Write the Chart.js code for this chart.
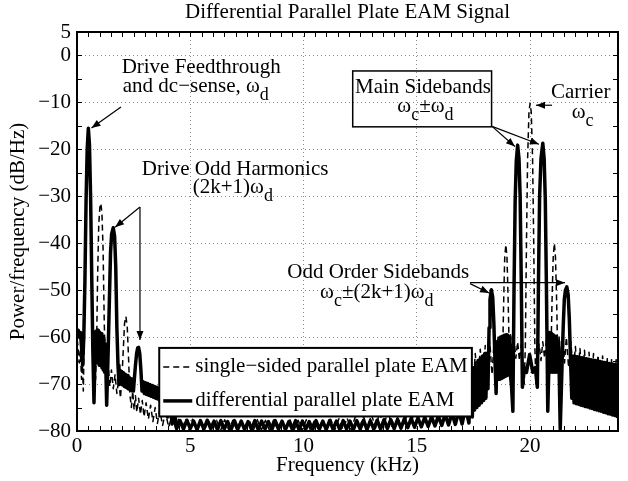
<!DOCTYPE html>
<html>
<head>
<meta charset="utf-8">
<title>Differential Parallel Plate EAM Signal</title>
<script src="https://cdn.jsdelivr.net/npm/chart.js@4.4.1/dist/chart.umd.min.js"></script>
<style>
  html, body { margin: 0; padding: 0; background: #fff; }
</style>
</head>
<body>
<canvas id="grafico" width="628" height="481"></canvas>
<script>
// tick labels
const xTickLabels = [0, 5, 10, 15, 20];
const yTickLabels = [5, 0, -10, -20, -30, -40, -50, -60, -70, -80];
const seriesNames = ['single\u2212sided parallel plate EAM', 'differential parallel plate EAM'];

// single-sided parallel plate (dashed)
const singleFreq = [
  0.00, 0.05, 0.10, 0.15, 0.20, 0.24, 0.28, 0.33, 0.38, 0.44,
  0.50, 0.56, 0.62, 0.67, 0.72, 0.77, 0.82, 0.87, 0.91, 0.96,
  1.01, 1.05, 1.10, 1.15, 1.20, 1.25, 1.32, 1.38, 1.45, 1.52,
  1.60, 1.68, 1.76, 1.84, 1.92, 2.00, 2.05, 2.10, 2.16, 2.22,
  2.28, 2.33, 2.40, 2.46, 2.52, 2.58, 2.64, 2.72, 2.80, 2.88,
  2.96, 3.05, 3.15, 3.25, 3.35, 3.45, 3.55, 3.65, 3.78, 3.90,
  4.05, 4.20, 4.35, 4.50, 4.65, 4.80, 4.95, 5.10, 5.28, 5.45,
  5.62, 5.80, 5.98, 6.16, 6.34, 6.52, 6.70, 6.88, 7.06, 7.24,
  7.42, 7.60, 7.78, 7.96, 8.14, 8.32, 8.50, 8.68, 8.86, 9.04,
  9.22, 9.40, 9.58, 9.76, 9.94, 10.12, 10.30, 10.48, 10.66, 10.84,
  11.02, 11.20, 11.38, 11.56, 11.74, 11.92, 12.10, 12.28, 12.46, 12.64,
  12.82, 13.00, 13.18, 13.36, 13.54, 13.72, 13.90, 14.05, 14.20, 14.35,
  14.50, 14.65, 14.80, 14.95, 15.10, 15.25, 15.40, 15.55, 15.70, 15.85,
  16.00, 16.15, 16.30, 16.45, 16.60, 16.75, 16.90, 17.05, 17.20, 17.35,
  17.47, 17.58, 17.69, 17.80, 17.91, 18.02, 18.12, 18.22, 18.32, 18.42,
  18.52, 18.60, 18.68, 18.74, 18.79, 18.84, 18.88, 18.93, 18.98, 19.03,
  19.08, 19.14, 19.21, 19.29, 19.37, 19.45, 19.53, 19.61, 19.68, 19.74,
  19.79, 19.84, 19.89, 19.95, 20.00, 20.05, 20.11, 20.16, 20.21, 20.26,
  20.32, 20.40, 20.48, 20.56, 20.64, 20.72, 20.80, 20.86, 20.92, 20.97,
  21.02, 21.07, 21.12, 21.17, 21.22, 21.28, 21.36, 21.44, 21.52, 21.60,
  21.70, 21.80, 21.90, 22.00, 22.10, 22.20, 22.30, 22.40, 22.50, 22.60,
  22.70, 22.80, 22.90, 23.00, 23.10, 23.20, 23.30, 23.40, 23.50, 23.60,
  23.70, 23.80, 23.88
];
const singlePower = [
  -60.5, -62, -65.5, -63, -69, -66, -71.5, -56, -38, -24,
  -19, -24, -38, -56, -68, -64, -69, -60, -47, -36,
  -32.3, -31.5, -33.5, -41, -56, -67, -71.8, -66, -70.5, -67,
  -71, -68, -72, -69, -73, -67, -62, -57, -55.6, -58,
  -65, -72, -75, -71.5, -75.5, -72.5, -76, -73, -76.5, -73.5,
  -77, -74, -77.5, -74.5, -78, -75, -78.4, -75.5, -78.8, -76,
  -79.2, -76.5, -79.4, -77.2, -79.6, -77.4, -79.8, -77.5, -79.8, -77.6,
  -79.9, -77.6, -79.8, -77.7, -79.9, -77.6, -79.8, -77.7, -79.9, -77.6,
  -79.8, -77.7, -79.9, -77.6, -79.8, -77.7, -79.9, -77.6, -79.8, -77.7,
  -79.9, -77.6, -79.8, -77.7, -79.9, -77.6, -79.8, -77.7, -79.9, -77.6,
  -79.8, -77.5, -79.8, -77.4, -79.7, -77.2, -79.7, -77, -79.6, -76.8,
  -79.5, -76.5, -79.4, -76, -79.2, -75.5, -79, -74.5, -78.6, -73.5,
  -78.2, -72.4, -77.8, -71.5, -77.2, -70.6, -76.6, -69.8, -76, -69,
  -75.3, -68.2, -74.6, -67.3, -73.8, -66.4, -73, -65.4, -72.2, -64.4,
  -71.4, -63.5, -70.6, -62.6, -69.8, -61.8, -69, -61, -68, -60.2,
  -66.5, -59.5, -65, -60, -63, -51, -43, -40.3, -43, -52,
  -63, -59.5, -64.5, -60.5, -64.5, -61, -65, -61.5, -66, -70,
  -62, -40, -22, -12, -10.2, -12, -22, -40, -62, -70,
  -66, -61.5, -65, -61, -64.5, -60.5, -64, -60, -63.5, -52,
  -43, -40, -43, -52, -64, -60, -66, -59, -65.5, -60,
  -66.5, -61, -67.5, -62, -68.5, -62.4, -69, -62.8, -69.5, -63.2,
  -70, -63.5, -70.4, -63.8, -70.8, -64, -71.2, -64.3, -71.6, -64.6,
  -72, -64.8, -72.2
];

// differential parallel plate (solid)
const diffFreq = [
  0.00, 0.05, 0.10, 0.15, 0.20, 0.25, 0.30, 0.35, 0.40, 0.45, 0.50, 0.55, 0.60, 0.65, 0.70, 0.75,
  0.80, 0.83, 0.86, 0.89, 0.92, 0.95, 0.98, 1.01, 1.04, 1.07, 1.10, 1.13, 1.16, 1.19, 1.22, 1.25, 1.28,
  1.31, 1.37, 1.43, 1.48, 1.53, 1.60, 1.66, 1.71, 1.76,
  1.81, 1.85, 1.89, 1.93, 1.97, 2.01, 2.05, 2.09, 2.13, 2.17, 2.21, 2.25, 2.29, 2.33, 2.37, 2.41, 2.45, 2.49, 2.53,
  2.58, 2.63, 2.68, 2.72, 2.77, 2.82,
  2.87, 2.92, 2.97, 3.02, 3.07, 3.12, 3.17, 3.22, 3.27, 3.32, 3.37, 3.42, 3.47, 3.52, 3.57, 3.62, 3.67, 3.72,
  3.80, 3.90, 4.00, 4.10, 4.20, 4.30,
  4.40, 4.55, 4.70, 4.85, 5.00, 5.15, 5.30, 5.45, 5.60, 5.75,
  5.90, 6.05, 6.20, 6.35, 6.50, 6.65, 6.80, 6.95, 7.10, 7.25,
  7.40, 7.55, 7.70, 7.85, 8.00, 8.15, 8.30, 8.45, 8.60, 8.75,
  8.90, 9.05, 9.20, 9.35, 9.50, 9.65, 9.80, 9.95, 10.10, 10.25,
  10.40, 10.55, 10.70, 10.85, 11.00, 11.15, 11.30, 11.45, 11.60, 11.75,
  11.90, 12.05, 12.20, 12.35, 12.50, 12.65, 12.80, 12.95, 13.10, 13.25,
  13.40, 13.55, 13.70, 13.85,
  14.00, 14.15, 14.30, 14.45, 14.60, 14.75, 14.90, 15.05, 15.20, 15.35,
  15.50, 15.65, 15.80, 15.95, 16.10, 16.25, 16.40, 16.55, 16.70, 16.85,
  17.00, 17.15, 17.30, 17.40,
  17.45, 17.50, 17.55, 17.60, 17.65, 17.70, 17.75, 17.80, 17.85, 17.90, 17.95, 18.00, 18.05, 18.10, 18.14,
  18.19, 18.23, 18.29, 18.35, 18.40, 18.45,
  18.50, 18.54, 18.58, 18.62, 18.66, 18.70, 18.74, 18.78, 18.82, 18.86, 18.90, 18.94, 18.98, 19.02, 19.06, 19.10, 19.14, 19.18,
  19.24, 19.29, 19.34, 19.39, 19.45, 19.51, 19.56, 19.61, 19.66, 19.74, 19.84, 19.98,
  20.12, 20.23, 20.32, 20.37, 20.42, 20.48, 20.56, 20.62, 20.67, 20.72, 20.78,
  20.82, 20.86, 20.90, 20.94, 20.98, 21.02, 21.06, 21.10, 21.14, 21.18, 21.22, 21.26,
  21.33, 21.41, 21.46, 21.51, 21.56, 21.62, 21.68, 21.73, 21.78,
  21.84, 21.89, 21.94, 21.99, 22.04, 22.09, 22.14, 22.19, 22.24, 22.29, 22.34, 22.39, 22.44, 22.49,
  22.54, 22.59, 22.64, 22.69, 22.74, 22.79, 22.84, 22.89, 22.94, 22.99, 23.04, 23.09, 23.14, 23.19,
  23.24, 23.29, 23.34, 23.39, 23.44, 23.49, 23.54, 23.59, 23.64, 23.69, 23.74, 23.79, 23.84, 23.88
];
const diffPower = [
  -59.5, -58.5, -60, -59, -62, -66, -60, -48, -31, -20, -15.5, -19, -30, -47, -63, -74,
  -63, -58.8, -65, -58.5, -65.5, -58.6, -66, -59, -66, -59.3, -66.5, -59.8, -67, -60.5, -67.5, -61.5, -68,
  -74.5, -64, -52, -42, -38, -36.7, -38.5, -45, -58,
  -66, -69.8, -67, -70, -67.3, -70.2, -67.6, -70.5, -67.9, -70.7, -68.2, -71, -68.5, -71.2, -68.8, -71.4, -69, -71.5, -69,
  -66, -63.5, -62.3, -62.2, -63.5, -67,
  -71.5, -69.5, -72, -69.7, -72.2, -69.9, -72.4, -70.1, -72.6, -70.3, -72.8, -70.5, -73, -70.7, -73.2, -71, -73.5, -71.3,
  -75, -72.5, -77, -74, -78.5, -76,
  -79.5, -77.8, -79.6, -77.7, -79.5, -77.9, -79.7, -77.8, -79.6, -77.7,
  -79.5, -77.9, -79.7, -77.8, -79.6, -78, -79.7, -77.8, -79.6, -77.9,
  -79.7, -78, -79.6, -77.8, -79.7, -77.9, -79.6, -78, -79.7, -77.8,
  -79.6, -77.9, -79.7, -78, -79.6, -77.8, -79.7, -77.9, -79.6, -78,
  -79.7, -77.8, -79.6, -77.9, -79.7, -77.8, -79.6, -77.9, -79.7, -77.8,
  -79.6, -77.9, -79.7, -77.8, -79.6, -77.7, -79.7, -77.8, -79.6, -77.7,
  -79.6, -77.6, -79.5, -77.6,
  -79.5, -77.5, -79.4, -77.4, -79.3, -77.3, -79.2, -77.2, -79.1, -77.1,
  -79, -77, -78.9, -76.8, -78.8, -76.5, -78.7, -76.2, -78.6, -75.8,
  -78.5, -75, -78.3, -68,
  -77, -66.5, -75.5, -65.5, -75, -65, -74.5, -64.5, -74, -64, -73.5, -63.5, -73, -63.5, -71,
  -58, -52, -49.9, -51.5, -57, -65,
  -72, -61, -69, -60.5, -69, -60, -68.8, -59.8, -68.6, -59.6, -68.4, -59.5, -68.2, -59.6, -68, -60, -68.5, -70.5,
  -75.8, -50, -31, -22.5, -19.1, -22, -30, -48, -70.7, -66.5, -67.5, -63.7,
  -67.5, -66.5, -70.7, -48, -30, -22, -18.7, -22, -30.5, -49, -75.8,
  -68, -59, -67.5, -59.2, -67.5, -59.5, -67.5, -59.8, -67.5, -60.2, -67.5, -61,
  -79.6, -66, -58, -52, -50, -49.3, -51, -56, -64,
  -73, -64, -74, -64.1, -74.2, -64.2, -74.3, -64.3, -74.5, -64.4, -74.6, -64.5, -74.8, -64.6,
  -74.9, -64.7, -75.1, -64.8, -75.2, -64.9, -75.4, -65, -75.5, -65.1, -75.7, -65.2, -75.8, -65.3,
  -76, -65.4, -76.1, -65.5, -76.3, -65.6, -76.4, -65.7, -76.6, -65.8, -76.7, -65.9, -76.9, -66
];

const FONT = '"Liberation Serif", "Times New Roman", serif';
const NOTE_FONT = '21px ' + FONT;
const SUB_FONT = '18px ' + FONT;

// text notes: left edge (kHz) and baseline (dB)
const noteTexts = [
  { text: 'Drive Feedthrough', f: 1.97, db: -3.7 },
  { text: 'and dc\u2212sense, \u03c9_d', f: 2.02, db: -7.7 },
  { text: 'Drive Odd Harmonics', f: 2.86, db: -25.5 },
  { text: '(2k+1)\u03c9_d', f: 5.11, db: -29.4 },
  { text: 'Main Sidebands', f: 12.27, db: -7.9 },
  { text: '\u03c9_c\u00b1\u03c9_d', f: 14.14, db: -12.0 },
  { text: 'Carrier', f: 20.92, db: -9.0 },
  { text: '\u03c9_c', f: 21.84, db: -13.4 },
  { text: 'Odd Order Sidebands', f: 9.28, db: -47.5 },
  { text: '\u03c9_c\u00b1(2k+1)\u03c9_d', f: 10.73, db: -51.6 }
];
// arrows: [f1, db1, f2, db2], head at the second point
const noteArrows = [
  [1.94, -11.0, 0.64, -15.45],
  [2.78, -32.3, 1.68, -36.6],
  [2.78, -32.3, 2.78, -60.6],
  [18.32, -15.1, 19.33, -19.4],
  [18.32, -15.1, 20.39, -18.9],
  [20.97, -10.6, 20.26, -10.6],
  [17.35, -48.6, 18.19, -50.6],
  [17.35, -48.4, 21.54, -48.4]
];
const mainBox = [12.17, -3.3, 18.30, -15.2];
const legendBox = [3.63, -62.3, 17.43, -76.9];

function isStep(v, s) { return Math.abs(v - Math.round(v / s) * s) < 1e-6; }
function fmt(v) { return v < 0 ? '\u2212' + Math.abs(v) : String(v); }

function drawRich(ctx, str, px, py) {
  const parts = [];
  for (let i = 0; i < str.length; i++) {
    if (str[i] === '_') { parts.push({ t: str[i + 1], sub: true }); i++; }
    else if (parts.length && !parts[parts.length - 1].sub) parts[parts.length - 1].t += str[i];
    else parts.push({ t: str[i], sub: false });
  }
  let cx = px;
  parts.forEach(p => {
    ctx.font = p.sub ? SUB_FONT : NOTE_FONT;
    ctx.fillText(p.t, cx, p.sub ? py + 8 : py);
    cx += ctx.measureText(p.t).width;
  });
}

function drawArrow(ctx, x1, y1, x2, y2) {
  ctx.beginPath();
  ctx.moveTo(x1, y1);
  ctx.lineTo(x2, y2);
  ctx.stroke();
  const a = Math.atan2(y2 - y1, x2 - x1);
  const len = 9, half = 3.5;
  ctx.beginPath();
  ctx.moveTo(x2, y2);
  ctx.lineTo(x2 - len * Math.cos(a) + half * Math.sin(a), y2 - len * Math.sin(a) - half * Math.cos(a));
  ctx.lineTo(x2 - len * Math.cos(a) - half * Math.sin(a), y2 - len * Math.sin(a) + half * Math.cos(a));
  ctx.closePath();
  ctx.fill();
}

// inward ticks on all four sides + box
const frame = {
  id: 'frame',
  afterDatasetsDraw(chart) {
    const { ctx, chartArea: a, scales: { x, y } } = chart;
    ctx.save();
    ctx.strokeStyle = '#000';
    ctx.lineWidth = 1;
    ctx.beginPath();
    x.ticks.forEach(t => {
      const px = Math.round(x.getPixelForValue(t.value)) + 0.5;
      ctx.moveTo(px, a.bottom); ctx.lineTo(px, a.bottom - 5);
      ctx.moveTo(px, a.top); ctx.lineTo(px, a.top + 5);
    });
    y.ticks.forEach(t => {
      const py = Math.round(y.getPixelForValue(t.value)) + 0.5;
      ctx.moveTo(a.left, py); ctx.lineTo(a.left + 5, py);
      ctx.moveTo(a.right, py); ctx.lineTo(a.right - 5, py);
    });
    ctx.stroke();
    ctx.lineWidth = 2;
    ctx.strokeRect(a.left, a.top, a.right - a.left, a.bottom - a.top);
    ctx.restore();
  }
};

const legendInside = {
  id: 'legendInside',
  afterDatasetsDraw(chart) {
    const { ctx, scales: { x, y } } = chart;
    const l = x.getPixelForValue(legendBox[0]), t = y.getPixelForValue(legendBox[1]);
    const r = x.getPixelForValue(legendBox[2]), b = y.getPixelForValue(legendBox[3]);
    ctx.save();
    ctx.fillStyle = '#fff';
    ctx.fillRect(l, t, r - l, b - t);
    ctx.strokeStyle = '#000';
    ctx.lineWidth = 2;
    ctx.strokeRect(l, t, r - l, b - t);
    const rows = [t + 19, t + 53];
    chart.data.datasets.forEach((ds, i) => {
      ctx.strokeStyle = '#000';
      ctx.lineWidth = ds.borderWidth;
      ctx.setLineDash(ds.borderDash || []);
      ctx.beginPath();
      ctx.moveTo(l + 4, rows[i]);
      ctx.lineTo(l + 33, rows[i]);
      ctx.stroke();
      ctx.setLineDash([]);
      ctx.fillStyle = '#000';
      ctx.font = NOTE_FONT;
      ctx.textBaseline = 'middle';
      ctx.fillText(ds.label, l + 36, rows[i]);
    });
    ctx.restore();
  }
};

const notes = {
  id: 'notes',
  afterDatasetsDraw(chart) {
    const { ctx, scales: { x, y } } = chart;
    ctx.save();
    ctx.fillStyle = '#000';
    ctx.strokeStyle = '#000';
    ctx.textBaseline = 'alphabetic';
    ctx.textAlign = 'left';
    noteTexts.forEach(n => drawRich(ctx, n.text, x.getPixelForValue(n.f), y.getPixelForValue(n.db)));
    ctx.lineWidth = 1.2;
    noteArrows.forEach(p => drawArrow(ctx,
      x.getPixelForValue(p[0]), y.getPixelForValue(p[1]),
      x.getPixelForValue(p[2]), y.getPixelForValue(p[3])));
    ctx.lineWidth = 1.5;
    const bl = x.getPixelForValue(mainBox[0]), bt = y.getPixelForValue(mainBox[1]);
    ctx.strokeRect(bl, bt, x.getPixelForValue(mainBox[2]) - bl, y.getPixelForValue(mainBox[3]) - bt);
    ctx.restore();
  }
};

const ctx = document.getElementById('grafico').getContext('2d');

new Chart(ctx, {
  type: 'line',
  data: {
    datasets: [{
      label: seriesNames[0],
      data: singleFreq.map((f, i) => ({ x: f, y: singlePower[i] })),
      borderColor: '#000',
      borderWidth: 1.5,
      borderDash: [6, 4],
      borderJoinStyle: 'round',
      pointRadius: 0,
      tension: 0,
      fill: false,
      order: 2
    }, {
      label: seriesNames[1],
      data: diffFreq.map((f, i) => ({ x: f, y: diffPower[i] })),
      borderColor: '#000',
      borderWidth: 3.5,
      borderJoinStyle: 'round',
      pointRadius: 0,
      tension: 0,
      fill: false,
      order: 1
    }]
  },
  options: {
    responsive: false,
    animation: false,
    devicePixelRatio: 1,
    layout: { padding: { left: 0, right: 10, top: 0, bottom: 0 } },
    plugins: {
      legend: { display: false },
      tooltip: { enabled: false },
      title: {
        display: true,
        text: 'Differential Parallel Plate EAM Signal',
        color: '#000',
        fullSize: false,
        font: { family: FONT, size: 21, weight: 'normal', lineHeight: 1 },
        padding: { top: 2, bottom: 9 }
      }
    },
    scales: {
      x: {
        type: 'linear',
        bounds: 'data',
        min: 0,
        max: 23.88,
        afterFit: s => { s.height = 50; },
        ticks: {
          stepSize: 0.5,
          includeBounds: false,
          autoSkip: false,
          maxRotation: 0,
          padding: 3,
          color: '#000',
          font: { family: FONT, size: 21 },
          callback: v => xTickLabels.includes(v) ? String(v) : ''
        },
        grid: {
          drawTicks: false,
          lineWidth: 1,
          color: c => (c.tick && isStep(c.tick.value, 5) && c.tick.value > 0) ? '#8a8a8a' : 'rgba(0,0,0,0)'
        },
        border: { display: false, dash: [1, 3] },
        title: {
          display: true,
          text: 'Frequency (kHz)',
          color: '#000',
          font: { family: FONT, size: 21 },
          padding: { top: 0, bottom: 3 }
        }
      },
      y: {
        type: 'linear',
        bounds: 'data',
        min: -80,
        max: 5,
        afterFit: s => { s.width = 77; },
        ticks: {
          stepSize: 5,
          autoSkip: false,
          padding: 6,
          color: '#000',
          font: { family: FONT, size: 21 },
          callback: v => yTickLabels.includes(v) ? fmt(v) : ''
        },
        grid: {
          drawTicks: false,
          lineWidth: 1,
          color: c => (c.tick && isStep(c.tick.value, 10) && c.tick.value > -80 && c.tick.value < 5) ? '#8a8a8a' : 'rgba(0,0,0,0)'
        },
        border: { display: false, dash: [1, 3] },
        title: {
          display: true,
          text: 'Power/frequency (dB/Hz)',
          color: '#000',
          font: { family: FONT, size: 21 },
          padding: { top: 6, bottom: 0 }
        }
      }
    }
  },
  plugins: [frame, legendInside, notes]
});
</script>
</body>
</html>
